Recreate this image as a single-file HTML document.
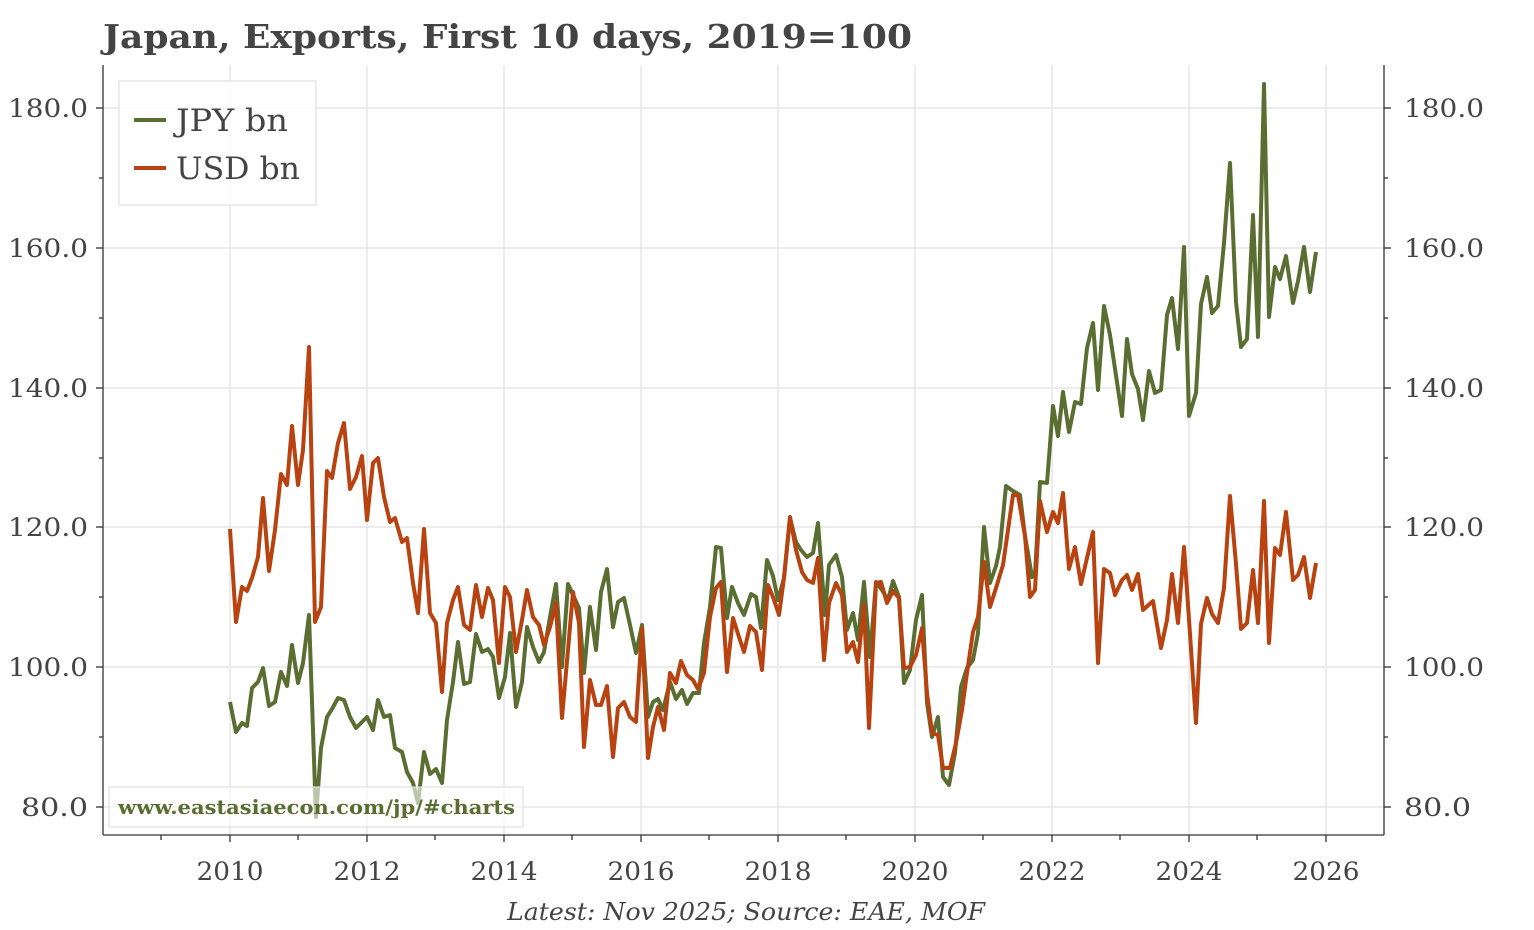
<!DOCTYPE html>
<html><head><meta charset="utf-8"><style>
body{margin:0;background:#fff;}
svg{display:block;font-family:"DejaVu Serif","Liberation Serif",serif;}
</style></head><body>
<svg width="1534" height="930" viewBox="0 0 1534 930" xmlns="http://www.w3.org/2000/svg">
<rect width="1534" height="930" fill="#fff"/>
<text x="103" y="48" font-size="33" font-weight="bold" fill="#444" textLength="809" lengthAdjust="spacingAndGlyphs">Japan, Exports, First 10 days, 2019=100</text>
<g stroke="#e6e6e6" stroke-width="1.5">
<line x1="103" y1="108" x2="1384" y2="108"/><line x1="103" y1="248" x2="1384" y2="248"/>
<line x1="103" y1="388" x2="1384" y2="388"/><line x1="103" y1="527" x2="1384" y2="527"/>
<line x1="103" y1="667" x2="1384" y2="667"/><line x1="103" y1="807" x2="1384" y2="807"/>
<line x1="230" y1="65" x2="230" y2="835"/><line x1="367" y1="65" x2="367" y2="835"/>
<line x1="504" y1="65" x2="504" y2="835"/><line x1="641" y1="65" x2="641" y2="835"/>
<line x1="778" y1="65" x2="778" y2="835"/><line x1="915" y1="65" x2="915" y2="835"/>
<line x1="1052" y1="65" x2="1052" y2="835"/><line x1="1189" y1="65" x2="1189" y2="835"/>
<line x1="1326" y1="65" x2="1326" y2="835"/>
</g>
<g stroke="#333" stroke-width="1.3" fill="none">
<line x1="103" y1="65" x2="103" y2="835"/><line x1="1384" y1="65" x2="1384" y2="835"/>
<line x1="103" y1="835" x2="1384" y2="835"/>
</g>
<g stroke="#333" stroke-width="1.3">
<line x1="96" y1="108" x2="103" y2="108"/><line x1="96" y1="248" x2="103" y2="248"/><line x1="96" y1="388" x2="103" y2="388"/><line x1="96" y1="527" x2="103" y2="527"/><line x1="96" y1="667" x2="103" y2="667"/><line x1="96" y1="807" x2="103" y2="807"/>
<line x1="1384" y1="108" x2="1391" y2="108"/><line x1="1384" y1="248" x2="1391" y2="248"/><line x1="1384" y1="388" x2="1391" y2="388"/><line x1="1384" y1="527" x2="1391" y2="527"/><line x1="1384" y1="667" x2="1391" y2="667"/><line x1="1384" y1="807" x2="1391" y2="807"/>
<line x1="99" y1="178" x2="103" y2="178"/><line x1="99" y1="318" x2="103" y2="318"/><line x1="99" y1="458" x2="103" y2="458"/><line x1="99" y1="597" x2="103" y2="597"/><line x1="99" y1="737" x2="103" y2="737"/>
<line x1="1384" y1="178" x2="1388" y2="178"/><line x1="1384" y1="318" x2="1388" y2="318"/><line x1="1384" y1="458" x2="1388" y2="458"/><line x1="1384" y1="597" x2="1388" y2="597"/><line x1="1384" y1="737" x2="1388" y2="737"/>
<line x1="230" y1="835" x2="230" y2="842"/><line x1="298" y1="835" x2="298" y2="840"/><line x1="367" y1="835" x2="367" y2="842"/><line x1="435" y1="835" x2="435" y2="840"/><line x1="504" y1="835" x2="504" y2="842"/><line x1="572" y1="835" x2="572" y2="840"/><line x1="641" y1="835" x2="641" y2="842"/><line x1="709" y1="835" x2="709" y2="840"/><line x1="778" y1="835" x2="778" y2="842"/><line x1="846" y1="835" x2="846" y2="840"/><line x1="915" y1="835" x2="915" y2="842"/><line x1="983" y1="835" x2="983" y2="840"/><line x1="1052" y1="835" x2="1052" y2="842"/><line x1="1120" y1="835" x2="1120" y2="840"/><line x1="1189" y1="835" x2="1189" y2="842"/><line x1="1257" y1="835" x2="1257" y2="840"/><line x1="1326" y1="835" x2="1326" y2="842"/><line x1="161" y1="835" x2="161" y2="840"/>
</g>
<g font-size="25" fill="#444" text-anchor="end">
<text x="88" y="117" textLength="80" lengthAdjust="spacingAndGlyphs">180.0</text><text x="88" y="257" textLength="80" lengthAdjust="spacingAndGlyphs">160.0</text><text x="88" y="397" textLength="80" lengthAdjust="spacingAndGlyphs">140.0</text><text x="88" y="536" textLength="80" lengthAdjust="spacingAndGlyphs">120.0</text><text x="88" y="676" textLength="80" lengthAdjust="spacingAndGlyphs">100.0</text><text x="88" y="816" textLength="67" lengthAdjust="spacingAndGlyphs">80.0</text>
</g>
<g font-size="25" fill="#444" text-anchor="start">
<text x="1404" y="117" textLength="80" lengthAdjust="spacingAndGlyphs">180.0</text><text x="1404" y="257" textLength="80" lengthAdjust="spacingAndGlyphs">160.0</text><text x="1404" y="397" textLength="80" lengthAdjust="spacingAndGlyphs">140.0</text><text x="1404" y="536" textLength="80" lengthAdjust="spacingAndGlyphs">120.0</text><text x="1404" y="676" textLength="80" lengthAdjust="spacingAndGlyphs">100.0</text><text x="1404" y="816" textLength="67" lengthAdjust="spacingAndGlyphs">80.0</text>
</g>
<g font-size="25" fill="#444" text-anchor="middle">
<text x="230" y="880" textLength="67" lengthAdjust="spacingAndGlyphs">2010</text><text x="367" y="880" textLength="67" lengthAdjust="spacingAndGlyphs">2012</text><text x="504" y="880" textLength="67" lengthAdjust="spacingAndGlyphs">2014</text><text x="641" y="880" textLength="67" lengthAdjust="spacingAndGlyphs">2016</text><text x="778" y="880" textLength="67" lengthAdjust="spacingAndGlyphs">2018</text><text x="915" y="880" textLength="67" lengthAdjust="spacingAndGlyphs">2020</text><text x="1052" y="880" textLength="67" lengthAdjust="spacingAndGlyphs">2022</text><text x="1189" y="880" textLength="67" lengthAdjust="spacingAndGlyphs">2024</text><text x="1326" y="880" textLength="67" lengthAdjust="spacingAndGlyphs">2026</text>
</g>
<polyline fill="none" stroke="#5a6e32" stroke-width="4" stroke-linejoin="round" points="230,702 236,732 242,723 247,726 252,688 258,682 263,668 269,706 275,702 281,672 287,686 292,645 298,683 303,663 309,615 316,817 321,748 327,717 332,709 338,698 344,700 350,717 356,728 362,722 367,717 373,730 378,700 384,717 390,715 395,748 402,752 407,772 413,783 418,803 424,752 430,774 436,769 442,783 447,720 453,682 458,642 464,684 470,682 476,634 482,652 488,649 493,657 499,698 505,677 510,633 516,707 522,682 527,627 533,647 539,662 544,652 550,617 556,584 562,667 568,584 573,595 579,608 584,673 590,607 596,650 601,592 607,569 613,627 618,602 624,598 630,625 636,653 642,625 648,717 653,702 658,699 663,710 670,682 676,699 682,690 687,704 693,693 699,693 704,643 710,607 716,547 721,548 727,618 732,587 738,603 744,615 751,594 756,597 761,628 767,560 773,576 778,600 784,578 790,518 796,542 801,550 807,557 813,553 818,523 825,615 829,565 836,555 842,577 847,630 853,613 858,640 864,582 870,657 876,582 882,590 888,600 893,581 899,597 904,683 910,670 916,620 922,595 927,703 932,737 938,717 943,777 949,785 955,753 961,687 967,668 973,660 978,633 984,527 990,583 996,566 1000,547 1006,486 1013,491 1020,495 1025,536 1032,577 1035,575 1040,482 1047,483 1053,406 1058,436 1063,392 1069,432 1075,402 1081,404 1087,348 1093,323 1098,390 1104,306 1110,335 1122,416 1127,339 1132,374 1138,389 1143,420 1149,371 1155,393 1161,390 1167,315 1172,298 1178,349 1184,247 1189,416 1196,393 1201,304 1207,277 1212,313 1218,306 1224,243 1230,163 1236,302 1241,347 1247,339 1253,215 1258,337 1264,84 1269,317 1275,267 1280,279 1286,256 1293,303 1298,281 1304,247 1310,292 1316,252"/>
<polyline fill="none" stroke="#b84310" stroke-width="4" stroke-linejoin="round" points="230,529 236,622 242,587 247,591 252,578 258,557 263,498 269,571 275,530 281,474 287,485 292,426 298,485 303,450 309,347 315,622 321,607 327,471 332,478 338,443 344,423 350,489 356,477 362,456 367,520 373,463 378,458 384,497 390,522 395,518 402,542 407,538 413,583 418,613 424,529 430,613 436,623 442,692 447,623 453,600 458,587 464,625 470,630 476,585 482,617 488,588 493,600 499,663 505,587 510,597 516,652 522,620 527,590 533,617 539,625 544,645 550,627 556,603 562,718 568,650 573,592 579,623 584,747 590,680 596,705 601,705 607,686 613,757 618,708 624,702 630,717 636,722 642,628 648,758 653,727 658,707 664,730 670,673 676,683 681,661 687,675 693,680 698,689 704,673 710,617 716,588 721,582 727,672 733,618 739,637 744,652 750,626 756,632 762,670 768,585 773,597 779,615 784,578 790,517 796,550 802,572 807,580 813,583 818,558 824,660 829,603 836,583 842,595 847,652 853,642 858,662 864,605 869,728 876,583 881,582 887,603 893,591 899,598 904,668 910,667 916,655 922,628 927,693 932,733 938,735 943,768 950,768 956,743 962,710 967,673 973,632 978,617 984,562 990,607 996,588 1003,565 1008,530 1013,495 1018,495 1025,536 1030,597 1035,590 1040,501 1047,532 1053,512 1058,523 1063,493 1069,569 1075,547 1081,584 1093,532 1098,663 1104,569 1110,573 1115,595 1122,580 1127,575 1132,590 1138,574 1143,610 1153,601 1161,648 1167,620 1172,574 1178,623 1184,547 1190,634 1196,723 1201,624 1207,598 1212,614 1218,623 1224,588 1230,496 1236,564 1241,629 1247,623 1253,570 1258,623 1264,501 1269,643 1275,548 1280,555 1286,512 1293,580 1298,575 1304,557 1310,598 1316,563"/>
<rect x="119" y="81" width="197" height="124" fill="#fff" fill-opacity="0.85" stroke="#e0e0e0" stroke-width="1.2"/>
<line x1="134" y1="120" x2="166" y2="120" stroke="#5a6e32" stroke-width="4"/>
<line x1="134" y1="168" x2="166" y2="168" stroke="#b84310" stroke-width="4"/>
<text x="176" y="131" font-size="31" fill="#444" textLength="112" lengthAdjust="spacingAndGlyphs">JPY bn</text>
<text x="176" y="179" font-size="31" fill="#444" textLength="124" lengthAdjust="spacingAndGlyphs">USD bn</text>
<rect x="109" y="787" width="414" height="40" fill="#fff" fill-opacity="0.6" stroke="#e0e0e0" stroke-width="1.2"/>
<text x="118" y="814" font-size="20" font-weight="bold" fill="#5a6e32" textLength="397" lengthAdjust="spacingAndGlyphs">www.eastasiaecon.com/jp/#charts</text>
<text x="507" y="920" font-size="24" font-style="italic" fill="#444" textLength="478" lengthAdjust="spacingAndGlyphs">Latest: Nov 2025; Source: EAE, MOF</text>
</svg>
</body></html>
